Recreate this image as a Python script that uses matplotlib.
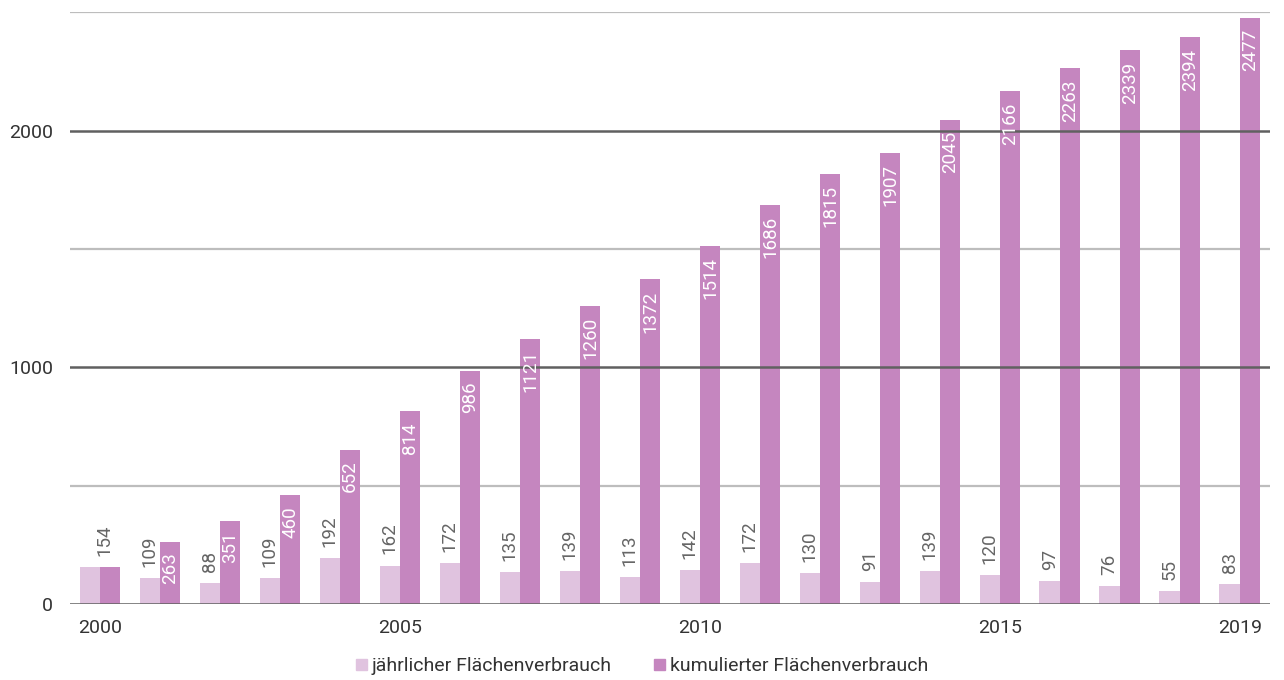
import numpy as np
import matplotlib.pyplot as plt
from matplotlib.patches import Patch

plt.rcParams['font.family'] = ['Roboto', 'DejaVu Sans']

years = list(range(2000, 2020))
yearly = [154, 109, 88, 109, 192, 162, 172, 135, 139, 113, 142, 172, 130, 91, 139, 120, 97, 76, 55, 83]
cumulative = [154, 263, 351, 460, 652, 814, 986, 1121, 1260, 1372, 1514, 1686, 1815, 1907, 2045, 2166, 2263, 2339, 2394, 2477]
tick_years = [2000, 2005, 2010, 2015, 2019]
y_ticks = [0, 1000, 2000]

light = '#e0c3df'
dark = '#c586bf'

fig = plt.figure(figsize=(12.84, 6.8), dpi=100)
ax = fig.add_axes([0.0545, 0.112, 0.9345, 0.87])

x = np.arange(len(years))
w = 0.34

# gridlines
for g in [500, 1500, 2500]:
    ax.axhline(g, color='#bdbdbd', lw=1.6, zorder=0)
for g in [0, 1000, 2000]:
    ax.axhline(g, color='#606060', lw=1.8, zorder=3)

ax.bar(x - w / 2, yearly, width=w, color=light, zorder=2)
ax.bar(x + w / 2, cumulative, width=w, color=dark, zorder=2)

# value labels
fs = 13.5
for i in range(len(years)):
    if i == 0:
        ax.annotate(str(yearly[i]), (x[i] + 0.08, yearly[i]), xytext=(0, 8),
                    textcoords='offset points', rotation=90, ha='center', va='bottom',
                    fontsize=fs, color='#666666')
        continue
    ax.annotate(str(yearly[i]), (x[i] - w / 2, yearly[i]), xytext=(0, 8),
                textcoords='offset points', rotation=90, ha='center', va='bottom',
                fontsize=fs, color='#666666')
    ax.annotate(str(cumulative[i]), (x[i] + w / 2, cumulative[i]), xytext=(0, -8),
                textcoords='offset points', rotation=90, ha='center', va='top',
                fontsize=fs, color='white')

ax.set_xlim(-0.5, len(years) - 0.5)
ax.set_ylim(0, 2500)
ax.set_xticks([years.index(t) for t in tick_years])
ax.set_xticklabels([str(t) for t in tick_years])
ax.set_yticks(y_ticks)
ax.set_yticklabels([str(t) for t in y_ticks])
ax.tick_params(length=0, labelsize=14, colors='#333333')
ax.tick_params(axis='x', pad=11)
ax.tick_params(axis='y', pad=12)
for s in ax.spines.values():
    s.set_visible(False)

handles = [Patch(color=light, label='jährlicher Flächenverbrauch'),
           Patch(color=dark, label='kumulierter Flächenverbrauch')]
fig.legend(handles=handles, loc='center', bbox_to_anchor=(0.5, 0.02), ncol=2,
           frameon=False, fontsize=14, handlelength=0.55, handleheight=0.55,
           handletextpad=0.25, columnspacing=2.2, labelcolor='#333333')

fig.savefig('out.png', dpi=100)
